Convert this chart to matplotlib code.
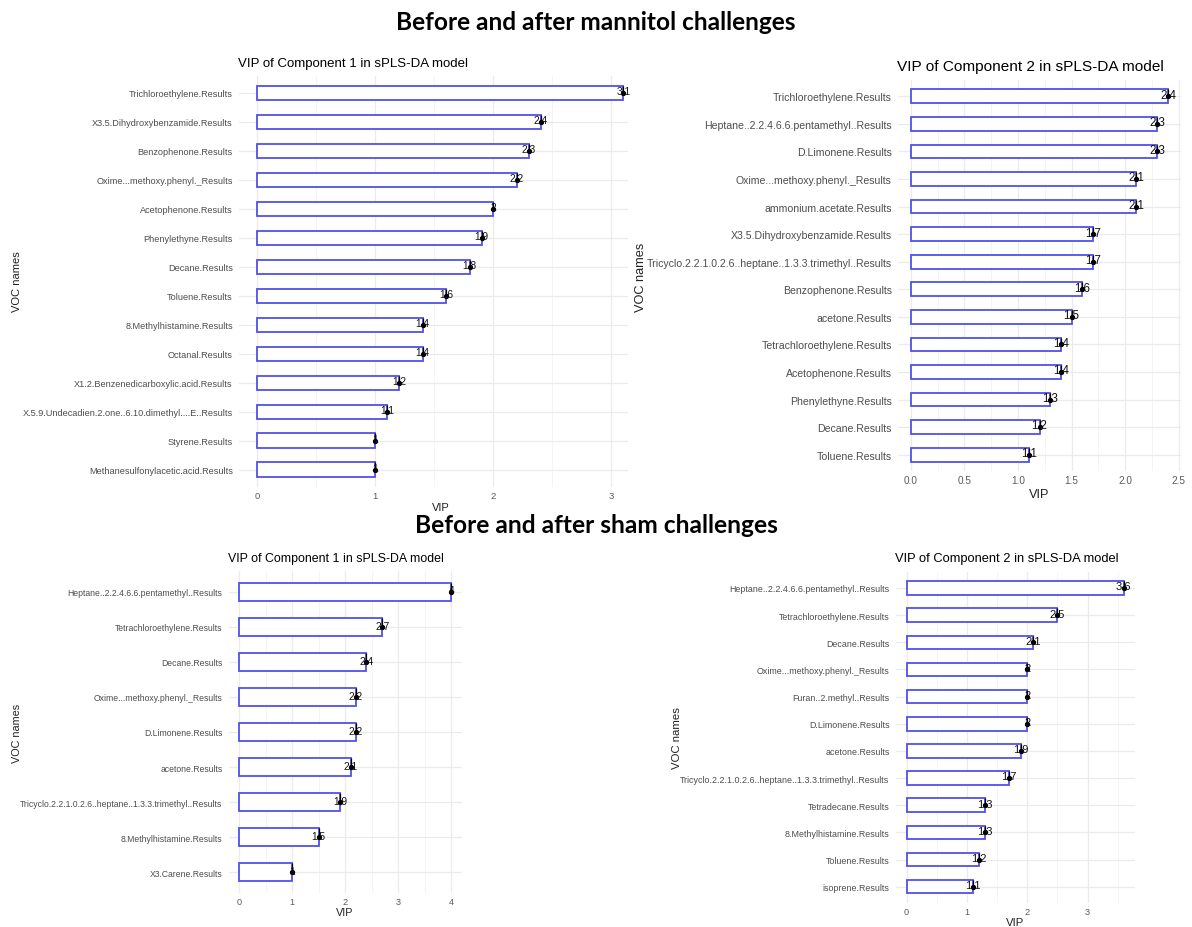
import numpy as np
import matplotlib
matplotlib.use('Agg')
import matplotlib.pyplot as plt
from matplotlib.ticker import MultipleLocator

plt.rcParams['font.family'] = ['Liberation Sans', 'DejaVu Sans']

# 데이터: 위에서 아래 순서
p1_names = ['Trichloroethylene.Results', 'X3.5.Dihydroxybenzamide.Results', 'Benzophenone.Results',
            'Oxime...methoxy.phenyl._Results', 'Acetophenone.Results', 'Phenylethyne.Results',
            'Decane.Results', 'Toluene.Results', '8.Methylhistamine.Results', 'Octanal.Results',
            'X1.2.Benzenedicarboxylic.acid.Results', 'X.5.9.Undecadien.2.one..6.10.dimethyl....E..Results',
            'Styrene.Results', 'Methanesulfonylacetic.acid.Results']
p1_vip = [3.1, 2.4, 2.3, 2.2, 2.0, 1.9, 1.8, 1.6, 1.4, 1.4, 1.2, 1.1, 1.0, 1.0]

p2_names = ['Trichloroethylene.Results', 'Heptane..2.2.4.6.6.pentamethyl..Results', 'D.Limonene.Results',
            'Oxime...methoxy.phenyl._Results', 'ammonium.acetate.Results', 'X3.5.Dihydroxybenzamide.Results',
            'Tricyclo.2.2.1.0.2.6..heptane..1.3.3.trimethyl..Results', 'Benzophenone.Results',
            'acetone.Results', 'Tetrachloroethylene.Results', 'Acetophenone.Results',
            'Phenylethyne.Results', 'Decane.Results', 'Toluene.Results']
p2_vip = [2.4, 2.3, 2.3, 2.1, 2.1, 1.7, 1.7, 1.6, 1.5, 1.4, 1.4, 1.3, 1.2, 1.1]

p3_names = ['Heptane..2.2.4.6.6.pentamethyl..Results', 'Tetrachloroethylene.Results', 'Decane.Results',
            'Oxime...methoxy.phenyl._Results', 'D.Limonene.Results', 'acetone.Results',
            'Tricyclo.2.2.1.0.2.6..heptane..1.3.3.trimethyl..Results', '8.Methylhistamine.Results',
            'X3.Carene.Results']
p3_vip = [4.0, 2.7, 2.4, 2.2, 2.2, 2.1, 1.9, 1.5, 1.0]

p4_names = ['Heptane..2.2.4.6.6.pentamethyl..Results', 'Tetrachloroethylene.Results', 'Decane.Results',
            'Oxime...methoxy.phenyl._Results', 'Furan..2.methyl..Results', 'D.Limonene.Results',
            'acetone.Results', 'Tricyclo.2.2.1.0.2.6..heptane..1.3.3.trimethyl..Results',
            'Tetradecane.Results', '8.Methylhistamine.Results', 'Toluene.Results', 'isoprene.Results']
p4_vip = [3.6, 2.5, 2.1, 2.0, 2.0, 2.0, 1.9, 1.7, 1.3, 1.3, 1.2, 1.1]

title1 = 'VIP of Component 1 in sPLS-DA model'
title2 = 'VIP of Component 2 in sPLS-DA model'

W, H = 1192, 928
fig = plt.figure(figsize=(W / 100, H / 100), dpi=100)


def fx(x):
    return x / W


def fy(y):
    return 1 - y / H


# 패널 배치 (픽셀): left, top, right, bottom, xlim, 눈금 간격, 글꼴 크기, 제목/축 제목 위치
panels = [
    dict(names=p1_names, vip=p1_vip, title=title1, rect=(239, 76.6, 628, 488.1), xlim=(-0.155, 3.14),
         step=1.0, fs_cat=6.6, fs_tick=6.8, fs_val=7.4, fs_ax=8.0, fs_title=9.5,
         title_y=63.5, xlab=(441, 508), ylab=(17, 282)),
    dict(names=p2_names, vip=p2_vip, title=title2, rect=(898, 80.8, 1181, 472.2), xlim=(-0.12, 2.52),
         step=0.5, fs_cat=7.6, fs_tick=7.2, fs_val=8.3, fs_ax=9.2, fs_title=11.1,
         title_y=66.5, xlab=(1039, 495), ylab=(641, 277)),
    dict(names=p3_names, vip=p3_vip, title=title1, rect=(228.7, 571.7, 461.9, 894.3), xlim=(-0.2, 4.2),
         step=1.0, fs_cat=6.2, fs_tick=6.6, fs_val=7.4, fs_ax=7.8, fs_title=8.95,
         title_y=559.5, xlab=(345, 913), ylab=(17, 733)),
    dict(names=p4_names, vip=p4_vip, title=title2, rect=(895.8, 572.7, 1134.6, 904.0), xlim=(-0.18, 3.78),
         step=1.0, fs_cat=6.4, fs_tick=6.6, fs_val=8.0, fs_ax=8.2, fs_title=9.3,
         title_y=559.5, xlab=(1015, 923), ylab=(677, 738)),
]

edge = '#5050ea'
grid = '#ebebeb'

for p in panels:
    l, t, r, b = p['rect']
    ax = fig.add_axes([fx(l), fy(b), (r - l) / W, (b - t) / H])
    n = len(p['names'])
    y = np.arange(n)
    vals = np.array(p['vip'])

    ax.barh(y, vals, height=0.5, color='white', edgecolor=edge, linewidth=1.3, zorder=2)
    ax.vlines(vals, y - 0.25, y, color='black', linewidth=0.9, zorder=3)
    ax.plot(vals, y, 'o', color='black', markersize=2.8, zorder=4)
    for v, yy in zip(vals, y):
        lab = f'{v:.1f}'.rstrip('0').rstrip('.')
        ax.text(v, yy + 0.05, lab, ha='center', va='baseline', fontsize=p['fs_val'], color='#111111', zorder=5)

    ax.set_xlim(*p['xlim'])
    ax.set_ylim(n - 0.4, -0.6)
    ax.set_yticks(y)
    ax.set_yticklabels(p['names'], fontsize=p['fs_cat'], color='#4d4d4d')
    ax.xaxis.set_major_locator(MultipleLocator(p['step']))
    ax.xaxis.set_minor_locator(MultipleLocator(p['step'] / 2))
    if p['step'] < 1:
        ax.xaxis.set_major_formatter(plt.FuncFormatter(lambda v, pos: f'{v:.1f}'))
    for lbl in ax.get_xticklabels():
        lbl.set_fontsize(p['fs_tick'])
        lbl.set_color('#5a5a5a')
    ax.tick_params(axis='both', which='both', length=0)
    ax.tick_params(axis='x', pad=3)
    ax.tick_params(axis='y', pad=4.5)

    ax.grid(True, which='major', color=grid, linewidth=0.9, zorder=0)
    ax.grid(True, which='minor', axis='x', color='#f3f3f3', linewidth=0.6, zorder=0)
    ax.set_axisbelow(True)
    for s in ax.spines.values():
        s.set_visible(False)

    ax.set_xlabel('VIP', fontsize=p['fs_ax'], color='#222222')
    ax.xaxis.label.set_va('center')
    ax.xaxis.set_label_coords(fx(p['xlab'][0]), fy(p['xlab'][1]), transform=fig.transFigure)
    ax.set_ylabel('VOC names', fontsize=p['fs_ax'], color='#222222')
    ax.yaxis.label.set_va('center')
    ax.yaxis.set_label_coords(fx(p['ylab'][0]), fy(p['ylab'][1]), transform=fig.transFigure)

    fig.text(fx(l - 1), fy(p['title_y']), p['title'], fontsize=p['fs_title'], ha='left', va='center')

# 상단 제목
h1 = fig.text(0.5, fy(29.5), 'Before and after mannitol challenges', ha='center', va='baseline',
              fontsize=15, fontweight='bold', family='Lato')
h2 = fig.text(fx(596), fy(533), 'Before and after sham challenges', ha='center', va='baseline',
              fontsize=15, fontweight='bold', family='Lato')

# 목표 폭에 맞게 글꼴 크기 조정
renderer = fig.canvas.get_renderer()
for h, target in [(h1, 401), (h2, 363)]:
    w = h.get_window_extent(renderer).width
    h.set_fontsize(h.get_fontsize() * target / w)

fig.savefig('out.png', dpi=100)
